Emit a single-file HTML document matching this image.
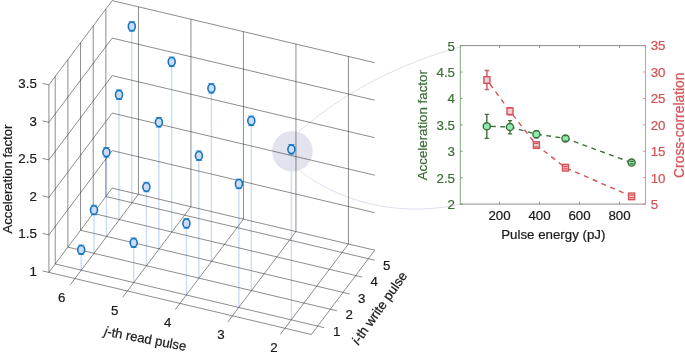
<!DOCTYPE html>
<html><head><meta charset="utf-8"><title>figure</title>
<style>html,body{margin:0;padding:0;background:#fff}svg{display:block}</style></head>
<body>
<svg width="685" height="352" viewBox="0 0 685 352" font-family="'Liberation Sans', sans-serif" font-size="13.3" stroke-width="0.22">
<rect width="685" height="352" fill="#fff"/>
<circle cx="292.4" cy="151.3" r="20.3" fill="#e3e3ee"/>
<path d="M298.8 131.6C343.4 92.6 398.5 64.1 460 47" fill="none" stroke="#e0dfed" stroke-width="1"/>
<path d="M299.5 170.1C312.2 181.4 371.9 222.8 460 204.4" fill="none" stroke="#e0dfed" stroke-width="1"/>
<path d="M131.8 26.4V202.74M171.7 61.8V232.02M211.4 88.3V261.3M251.3 120.8V290.58M291.4 149.3V319.86M119 94.7V219.6M158.9 122.3V248.88M198.9 155.7V278.16M238.9 183.9V307.44M106.4 152.3V236.46M146.4 187V265.74M186.4 223.4V295.02M94 210V253.32M133.7 242.7V282.6M81.2 249.8V270.18" fill="none" stroke="#cfdef7" stroke-width="1.5"/>
<path d="M55.23 263.97L55.23 76.47M67.89 247.11L67.89 59.61M80.55 230.25L80.55 42.75M93.21 213.39L93.21 25.89M105.87 196.53L105.87 9.03M48.9 272.4L48.9 84.9M48.9 272.4L112.2 188.1M112.2 188.1L374.7 250.2M48.9 272.4L42.5 270.9M48.9 234.9L112.2 150.6M112.2 150.6L374.7 212.7M48.9 234.9L42.5 233.4M48.9 197.4L112.2 113.1M112.2 113.1L374.7 175.2M48.9 197.4L42.5 195.9M48.9 159.9L112.2 75.6M112.2 75.6L374.7 137.7M48.9 159.9L42.5 158.4M48.9 122.4L112.2 38.1M112.2 38.1L374.7 100.2M48.9 122.4L42.5 120.9M48.9 84.9L112.2 0.6M112.2 0.6L374.7 62.7M48.9 84.9L42.5 83.4M348.45 243.99L348.45 56.49M348.45 243.99L280.25 334.49M295.95 231.57L295.95 44.07M295.95 231.57L227.75 322.07M243.45 219.15L243.45 31.65M243.45 219.15L175.25 309.65M190.95 206.73L190.95 19.23M190.95 206.73L122.75 297.23M138.45 194.31L138.45 6.81M138.45 194.31L70.25 284.81M55.23 263.97L324.23 327.67M67.89 247.11L336.89 310.81M80.55 230.25L349.55 293.95M93.21 213.39L362.21 277.09M105.87 196.53L374.87 260.23M48.9 272.4L311.4 334.5M311.4 334.5L374.7 250.2" fill="none" stroke="#2e2e2e" stroke-width="0.55"/>
<g fill="#cddcf3" stroke="#1272c2" stroke-width="1.55"><ellipse cx="131.8" cy="26.4" rx="3.5" ry="4.3"/><path d="M128.8 21.65h6M128.8 31.15h6" stroke-width="0.8"/><ellipse cx="171.7" cy="61.8" rx="3.5" ry="4.3"/><path d="M168.7 57.05h6M168.7 66.55h6" stroke-width="0.8"/><ellipse cx="211.4" cy="88.3" rx="3.5" ry="4.3"/><path d="M208.4 83.55h6M208.4 93.05h6" stroke-width="0.8"/><ellipse cx="251.3" cy="120.8" rx="3.5" ry="4.3"/><path d="M248.3 116.05h6M248.3 125.55h6" stroke-width="0.8"/><ellipse cx="291.4" cy="149.3" rx="3.5" ry="4.3"/><path d="M288.4 144.55h6M288.4 154.05h6" stroke-width="0.8"/><ellipse cx="119" cy="94.7" rx="3.5" ry="4.3"/><path d="M116 89.95h6M116 99.45h6" stroke-width="0.8"/><ellipse cx="158.9" cy="122.3" rx="3.5" ry="4.3"/><path d="M155.9 117.55h6M155.9 127.05h6" stroke-width="0.8"/><ellipse cx="198.9" cy="155.7" rx="3.5" ry="4.3"/><path d="M195.9 150.95h6M195.9 160.45h6" stroke-width="0.8"/><ellipse cx="238.9" cy="183.9" rx="3.5" ry="4.3"/><path d="M235.9 179.15h6M235.9 188.65h6" stroke-width="0.8"/><ellipse cx="106.4" cy="152.3" rx="3.5" ry="4.3"/><path d="M103.4 147.55h6M103.4 157.05h6" stroke-width="0.8"/><ellipse cx="146.4" cy="187" rx="3.5" ry="4.3"/><path d="M143.4 182.25h6M143.4 191.75h6" stroke-width="0.8"/><ellipse cx="186.4" cy="223.4" rx="3.5" ry="4.3"/><path d="M183.4 218.65h6M183.4 228.15h6" stroke-width="0.8"/><ellipse cx="94" cy="210" rx="3.5" ry="4.3"/><path d="M91 205.25h6M91 214.75h6" stroke-width="0.8"/><ellipse cx="133.7" cy="242.7" rx="3.5" ry="4.3"/><path d="M130.7 237.95h6M130.7 247.45h6" stroke-width="0.8"/><ellipse cx="81.2" cy="249.8" rx="3.5" ry="4.3"/><path d="M78.2 245.05h6M78.2 254.55h6" stroke-width="0.8"/></g>
<g fill="#1a1a1a" stroke="#1a1a1a">
<text x="36.8" y="275.85" text-anchor="end">1</text>
<text x="36.8" y="238.35" text-anchor="end">1.5</text>
<text x="36.8" y="200.85" text-anchor="end">2</text>
<text x="36.8" y="163.35" text-anchor="end">2.5</text>
<text x="36.8" y="125.85" text-anchor="end">3</text>
<text x="36.8" y="88.35" text-anchor="end">3.5</text>
<text x="274" y="351.55" text-anchor="middle">2</text>
<text x="220.9" y="339.25" text-anchor="middle">3</text>
<text x="167.8" y="326.95" text-anchor="middle">4</text>
<text x="114.7" y="314.65" text-anchor="middle">5</text>
<text x="61.6" y="302.35" text-anchor="middle">6</text>
<text x="336.8" y="335.95" text-anchor="middle">1</text>
<text x="349.3" y="319.45" text-anchor="middle">2</text>
<text x="361.8" y="302.95" text-anchor="middle">3</text>
<text x="374.3" y="286.45" text-anchor="middle">4</text>
<text x="386.8" y="269.95" text-anchor="middle">5</text>
<text transform="translate(11.5 179.1) rotate(-90)" text-anchor="middle" font-size="13.15">Acceleration factor</text>
<text transform="translate(145.2 339.7) rotate(10.9)" text-anchor="middle" dy="3.5" font-size="13.1"><tspan font-style="italic">j</tspan>-th read pulse</text>
<text transform="translate(380.3 308.6) rotate(-54.8)" text-anchor="middle" dy="3.5" font-size="13.3"><tspan font-style="italic">i</tspan>-th write pulse</text>
</g>
<path d="M460.3 45.6H645.5 M460.3 204.1H645.5" stroke="#6a6a6a" stroke-width="0.75" fill="none"/>
<path d="M499.5 45.6v2.4M499.5 204.1v-2.4M539.5 45.6v2.4M539.5 204.1v-2.4M579.5 45.6v2.4M579.5 204.1v-2.4M619.5 45.6v2.4M619.5 204.1v-2.4" stroke="#6a6a6a" stroke-width="0.75" fill="none"/>
<path d="M460.3 45.2V204.5M460.3 45.6h2.4M460.3 72.02h2.4M460.3 98.43h2.4M460.3 124.85h2.4M460.3 151.27h2.4M460.3 177.68h2.4M460.3 204.1h2.4" stroke="#5d8f5b" stroke-width="0.8" fill="none"/>
<path d="M645.5 45.2V204.5M645.5 45.6h-2.4M645.5 72.02h-2.4M645.5 98.43h-2.4M645.5 124.85h-2.4M645.5 151.27h-2.4M645.5 177.68h-2.4M645.5 204.1h-2.4" stroke="#df6f78" stroke-width="0.8" fill="none"/>
<g fill="#3d6e37" stroke="#3d6e37">
<text x="455" y="50.65" text-anchor="end">5</text>
<text x="455" y="77.07" text-anchor="end">4.5</text>
<text x="455" y="103.48" text-anchor="end">4</text>
<text x="455" y="129.9" text-anchor="end">3.5</text>
<text x="455" y="156.32" text-anchor="end">3</text>
<text x="455" y="182.73" text-anchor="end">2.5</text>
<text x="455" y="209.15" text-anchor="end">2</text>
<text transform="translate(427.2 125.2) rotate(-90)" text-anchor="middle">Acceleration factor</text>
</g>
<g fill="#d35257" stroke="#d35257">
<text x="650.7" y="50.45">35</text>
<text x="650.7" y="76.87">30</text>
<text x="650.7" y="103.28">25</text>
<text x="650.7" y="129.7">20</text>
<text x="650.7" y="156.12">15</text>
<text x="650.7" y="182.53">10</text>
<text x="650.7" y="208.95">5</text>
<text transform="translate(684.4 125.2) rotate(-90)" text-anchor="middle" font-size="13.85">Cross-correlation</text>
</g>
<g fill="#1a1a1a" stroke="#1a1a1a">
<text x="499.5" y="219.6" text-anchor="middle">200</text>
<text x="539.5" y="219.6" text-anchor="middle">400</text>
<text x="579.5" y="219.6" text-anchor="middle">600</text>
<text x="619.5" y="219.6" text-anchor="middle">800</text>
<text x="553.3" y="239.1" text-anchor="middle">Pulse energy (pJ)</text>
</g>
<path d="M486.9 80 L510 111.2 L536.4 145.1 L565.5 167.7 L631.6 196.4" fill="none" stroke="#d35257" stroke-width="1.4" stroke-dasharray="5 4.55" stroke-dashoffset="4.55"/>
<path d="M486.9 70.5V89.7M510 107.6V114.8M536.4 143.3V146.9M565.5 166.5V168.9M631.6 195.2V197.6" fill="none" stroke="#d35257" stroke-width="1.4"/>
<g fill="#f2cdd1" stroke="#d35257" stroke-width="1.4"><rect x="483.9" y="76.7" width="6" height="6.6"/><rect x="507" y="107.9" width="6" height="6.6"/><rect x="533.4" y="141.8" width="6" height="6.6"/><rect x="562.5" y="164.4" width="6" height="6.6"/><rect x="628.6" y="193.1" width="6" height="6.6"/></g>
<path d="M484.8 70.5h4.2M484.8 89.7h4.2M507.9 107.6h4.2M507.9 114.8h4.2M534.3 143.3h4.2M534.3 146.9h4.2M563.4 166.5h4.2M563.4 168.9h4.2M629.5 195.2h4.2M629.5 197.6h4.2" fill="none" stroke="#d35257" stroke-width="1.3"/>
<path d="M486.8 126.3 L510 127 L536.4 134.2 L565.5 138.4 L631.6 162.6" fill="none" stroke="#3d6e37" stroke-width="1.4" stroke-dasharray="4.9 4.5" stroke-dashoffset="5.3"/>
<path d="M486.8 114.3V138.4M510 120.7V133.9M536.4 130.6V137.8M565.5 135.6V141.2M631.6 161.4V163.8" fill="none" stroke="#3d6e37" stroke-width="1.4"/>
<g fill="#8eebb0" stroke="#3d6e37" stroke-width="1.4"><circle cx="486.8" cy="126.3" r="3.55"/><circle cx="510" cy="127" r="3.55"/><circle cx="536.4" cy="134.2" r="3.55"/><circle cx="565.5" cy="138.4" r="3.55"/><circle cx="631.6" cy="162.6" r="3.55"/></g>
<path d="M484.7 114.3h4.2M484.7 138.4h4.2M507.9 120.7h4.2M507.9 133.9h4.2M534.3 130.6h4.2M534.3 137.8h4.2M563.4 135.6h4.2M563.4 141.2h4.2M629.5 161.4h4.2M629.5 163.8h4.2" fill="none" stroke="#3d6e37" stroke-width="1.3"/>
</svg>
</body></html>
